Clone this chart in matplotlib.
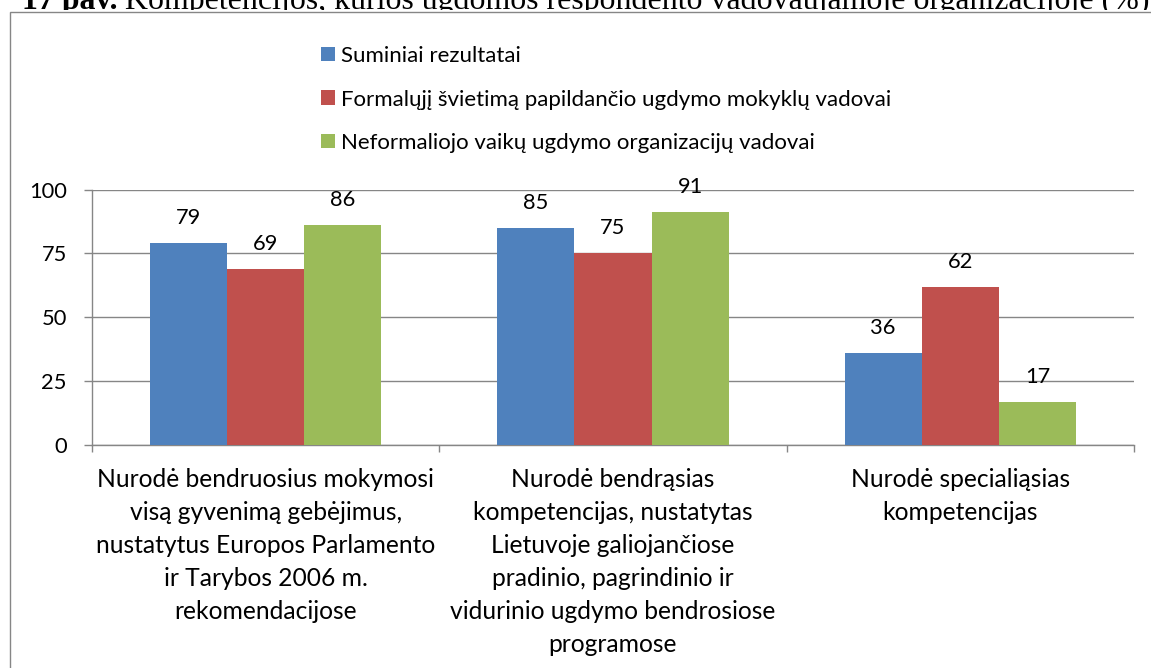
import matplotlib
matplotlib.use("Agg")
import matplotlib.pyplot as plt
import matplotlib.patches as mpatches
from matplotlib.font_manager import FontProperties
import numpy as np

# ---- data ----
categories = [
    "Nurodė bendruosius mokymosi\nvisą gyvenimą gebėjimus,\nnustatytus Europos Parlamento\nir Tarybos 2006 m.\nrekomendacijose",
    "Nurodė bendrąsias\nkompetencijas, nustatytas\nLietuvoje galiojančiose\npradinio, pagrindinio ir\nvidurinio ugdymo bendrosiose\nprogramose",
    "Nurodė specialiąsias\nkompetencijas",
]
series_names = [
    "Suminiai rezultatai",
    "Formalųjį švietimą papildančio ugdymo mokyklų vadovai",
    "Neformaliojo vaikų ugdymo organizacijų vadovai",
]
suminiai = [79, 85, 36]
formalaus = [69, 75, 62]
neformalaus = [86, 91, 17]
yticks = [0, 25, 50, 75, 100]
title_bold = "17 pav."
title_rest = "Kompetencijos, kurios ugdomos respondento vadovaujamoje organizacijoje (%)"

colors = ["#4F81BD", "#C0504D", "#9BBB59"]
gray = "#868686"
FAM = ['Lato', 'DejaVu Sans']
plt.rcParams['font.family'] = FAM

W, H = 1151, 668
DPI = 100
fig = plt.figure(figsize=(W / DPI, H / DPI), dpi=DPI)
fig.patch.set_facecolor("white")
fig.canvas.draw()
R = fig.canvas.get_renderer()

def fx(px):
    return px / W

def fy(py):
    return 1 - py / H

def metrics(text, size, family=FAM, weight="normal"):
    fp = FontProperties(family=family, size=size, weight=weight)
    return R.get_text_width_height_descent(text, fp, ismath=False)

def fit_size(texts, target, size0=16.0):
    tot = sum(metrics(t, size0)[0] for t in texts)
    return size0 * target / tot

# font sizes fitted to the reference text widths
cat_fs = fit_size(["Nurodė bendruosius mokymosi"], 338)
tick_fs = fit_size(["100"], 38)
leg_fs = fit_size(series_names, 1206)

# ---- title (partly hidden by chart area) ----
tfs = 22.3
t1 = fig.text(fx(22), fy(9.5), title_bold, fontfamily="Liberation Serif",
              fontweight="bold", fontsize=tfs, va="baseline", ha="left", zorder=0.5)
t2 = fig.text(fx(22), fy(9.5), title_rest, fontfamily="Liberation Serif",
              fontsize=tfs, va="baseline", ha="left", zorder=0.5)
for _ in range(3):
    b1 = t1.get_window_extent(R)
    t2.set_x((b1.x1 + tfs * DPI / 72 * 0.25) / W)
    b2 = t2.get_window_extent(R)
    tfs = tfs * (1126 / (b2.x1 - b1.x0))
    t1.set_fontsize(tfs)
    t2.set_fontsize(tfs)
b1 = t1.get_window_extent(R)
t2.set_x((b1.x1 + tfs * DPI / 72 * 0.25) / W)

# ---- chart area (white, covering title bottom) ----
fig.patches.append(mpatches.Rectangle((fx(9.5), -0.2), 1.5, fy(10.2) + 0.2,
                                      transform=fig.transFigure, facecolor="white",
                                      edgecolor="none", zorder=1))
fig.patches.append(mpatches.Rectangle((fx(9.5), -0.2), 1.5, fy(11.7) + 0.2,
                                      transform=fig.transFigure, facecolor="none",
                                      edgecolor=gray, linewidth=1.0, zorder=1.1))

# ---- axes ----
AX_L, AX_R, AX_T, AX_B = 92, 1134, 189.5, 445
ax = fig.add_axes([fx(AX_L), fy(AX_B), fx(AX_R) - fx(AX_L), (AX_B - AX_T) / H])
ax.set_zorder(2)
ax.patch.set_alpha(0)

x = np.arange(len(categories))
w = 1 / 4.5
data = [suminiai, formalaus, neformalaus]
handles = []
for i, (vals, c, name) in enumerate(zip(data, colors, series_names)):
    bars = ax.bar(x + (i - 1) * w, vals, width=w, color=c, label=name, zorder=3)
    handles.append(bars)
    for xi, v in zip(x + (i - 1) * w, vals):
        ax.annotate(f"{v}", (xi, v), xytext=(0, 13.7), textcoords="offset points",
                    ha="center", va="baseline", fontsize=tick_fs, color="black")

ax.set_xlim(-0.5, len(categories) - 0.5)
ax.set_ylim(0, 100)
ax.set_yticks(yticks)
ax.set_yticklabels([str(v) for v in yticks], fontsize=tick_fs)
ax.yaxis.grid(True, color=gray, linewidth=1.0)
ax.set_axisbelow(True)
for s in ["top", "right"]:
    ax.spines[s].set_visible(False)
for s in ["left", "bottom"]:
    ax.spines[s].set_color(gray)
    ax.spines[s].set_linewidth(1.0)
ax.tick_params(axis="y", direction="out", length=5.8, width=1.0, color=gray, pad=12.2)

# category labels: centred under each category, baselines 33 px apart, first at y=487 px
ax.set_xticks(x)
ax.set_xticklabels([""] * len(categories))
ax.set_xticks(np.arange(-0.5, len(categories)), minor=True)
ax.tick_params(axis="x", which="major", length=0)
ax.tick_params(axis="x", which="minor", direction="out", length=5, width=1.0, color=gray)
for xi, label in zip(x, categories):
    for j, line in enumerate(label.split("\n")):
        off_px = (487 - AX_B) + 33.0 * j
        ax.annotate(line, (xi, 0), xycoords=("data", "axes fraction"),
                    xytext=(0, -off_px * 72 / DPI), textcoords="offset points",
                    ha="center", va="baseline", fontsize=cat_fs, color="black",
                    annotation_clip=False)

# ---- legend: squares 14 px, rows at 55 / 98.5 / 142 px ----
fs_px = leg_fs * DPI / 72
_, l_h, l_d = metrics("lp", leg_fs)
hh = 14.0 / fs_px
lab_sp = (43.5 - l_h) / fs_px
top_px = 62 - (l_h - l_d)
leg = fig.legend(handles=handles, labels=series_names, loc="upper left",
                 bbox_to_anchor=(fx(321), fy(top_px)), bbox_transform=fig.transFigure,
                 frameon=False, fontsize=leg_fs, borderaxespad=0, borderpad=0,
                 handlelength=hh, handleheight=hh, handletextpad=6.0 / fs_px,
                 labelspacing=lab_sp)
leg.set_zorder(5)

fig.savefig("out.png", dpi=DPI, facecolor="white")
